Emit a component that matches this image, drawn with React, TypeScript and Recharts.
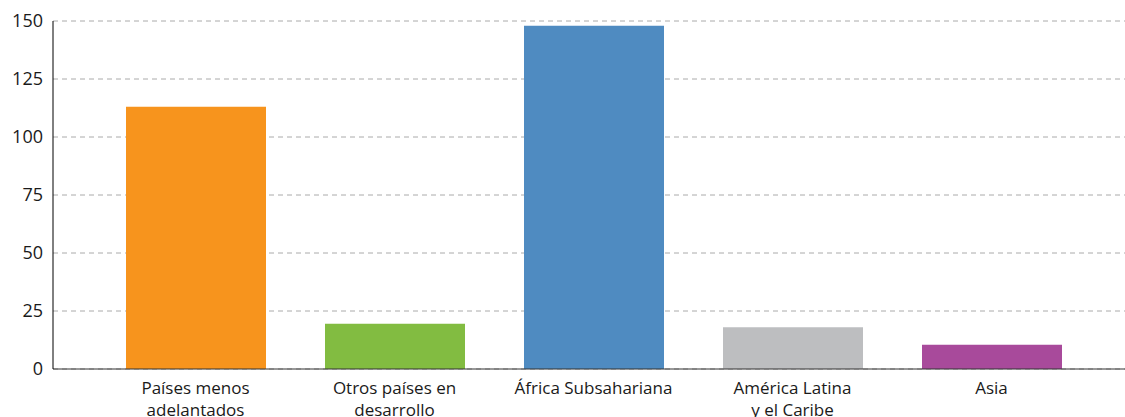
import React from 'react';
import { BarChart, Bar, XAxis, YAxis, CartesianGrid, Cell } from 'recharts';

const categories = [
  'Países menos\nadelantados',
  'Otros países en\ndesarrollo',
  'África Subsahariana',
  'América Latina\ny el Caribe',
  'Asia',
];
const values = [113, 19.5, 148, 18, 10.5];
const colors = ['#F7941D', '#82BC41', '#4F8BC1', '#BDBEC0', '#A84A9B'];
const yTicks = [0, 25, 50, 75, 100, 125, 150];

const data = categories.map((c, i) => ({ name: c, value: values[i] }));

const FONT = '"Open Sans", Lato, sans-serif';

const XTick = (props: any) => {
  const { x, y, payload } = props;
  const lines = String(payload.value).split('\n');
  return (
    <text x={x} y={y} textAnchor="middle" fill="#1a1a1a" fontSize={17} fontFamily={FONT}>
      {lines.map((l, i) => (
        <tspan key={i} x={x} dy={i === 0 ? 17 : 22}>
          {l}
        </tspan>
      ))}
    </text>
  );
};

export default function App() {
  return (
    <div style={{ position: 'absolute', left: 0, top: 0, background: '#fff' }}>
      <BarChart
        width={1125}
        height={417}
        data={data}
        margin={{ top: 21, right: 0, bottom: 0, left: 0 }}
      >
        <CartesianGrid vertical={false} stroke="#aaaaaa" strokeDasharray="5 4" />
        <XAxis
          dataKey="name"
          interval={0}
          tickLine={false}
          axisLine={{ stroke: '#333' }}
          height={48}
          padding={{ left: 43, right: 34 }}
          tick={<XTick />}
        />
        <YAxis
          domain={[0, 150]}
          ticks={yTicks}
          width={53}
          tickLine={false}
          tickMargin={4}
          axisLine={{ stroke: '#000' }}
          tick={{ fill: '#1a1a1a', fontSize: 18, fontFamily: FONT }}
        />
        <Bar dataKey="value" barSize={140} isAnimationActive={false}>
          {data.map((d, i) => (
            <Cell key={i} fill={colors[i]} />
          ))}
        </Bar>
      </BarChart>
    </div>
  );
}
